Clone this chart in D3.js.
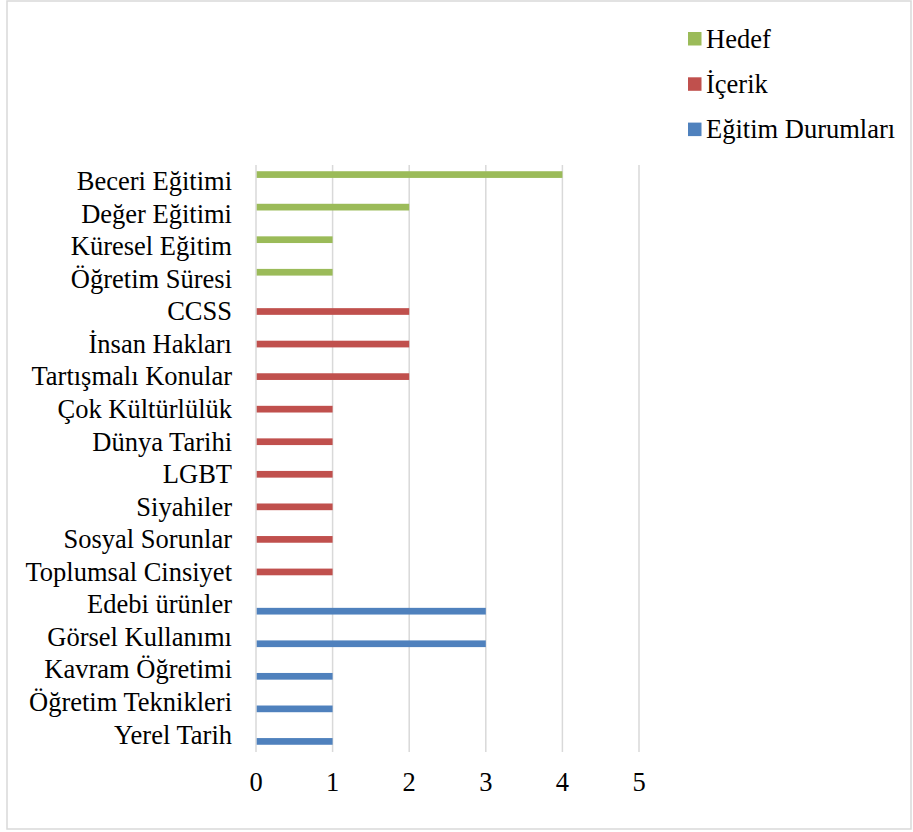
<!DOCTYPE html>
<html><head><meta charset="utf-8">
<script src="https://cdn.jsdelivr.net/npm/d3@7"></script>
</head><body style="margin:0">
<svg id="c" width="913" height="832"></svg>
<script>
const categories = ["Beceri Eğitimi","Değer Eğitimi","Küresel Eğitim","Öğretim Süresi","CCSS","İnsan Hakları","Tartışmalı Konular","Çok Kültürlülük","Dünya Tarihi","LGBT","Siyahiler","Sosyal Sorunlar","Toplumsal Cinsiyet","Edebi ürünler","Görsel Kullanımı","Kavram Öğretimi","Öğretim Teknikleri","Yerel Tarih"];
const seriesNames = ["Hedef","İçerik","Eğitim Durumları"];
const seriesColors = ["#9BBB59","#C0504D","#4F81BD"];
const hedef = [4,2,1,1,null,null,null,null,null,null,null,null,null,null,null,null,null,null];
const icerik = [null,null,null,null,2,2,2,1,1,1,1,1,1,null,null,null,null,null];
const egitimDurumlari = [null,null,null,null,null,null,null,null,null,null,null,null,null,3,3,1,1,1];
const xTicks = [0,1,2,3,4,5];

const FS = "26.5px";
const FONT = '"Liberation Serif"';
const seriesValues = [hedef, icerik, egitimDurumlari];
const svg = d3.select("#c");
svg.append("rect").attr("x",7).attr("y",1).attr("width",904).attr("height",828)
  .attr("fill","#fff").attr("stroke","#d9d9d9").attr("stroke-width",1.5);

const x = d3.scaleLinear().domain([0,5]).range([256,639]);
const y = d3.scaleBand().domain(categories).range([165,751]).paddingInner(0).paddingOuter(0);
const ys = d3.scaleBand().domain(seriesNames).range([0,y.bandwidth()]).paddingInner(0).paddingOuter(0.93);

svg.selectAll("line.grid").data(xTicks).join("line")
  .attr("x1",d=>x(d)).attr("x2",d=>x(d)).attr("y1",165).attr("y2",752)
  .attr("stroke","#d9d9d9").attr("stroke-width",1.5);

seriesNames.forEach((s,si)=>{
  const data = categories.map((c,i)=>({c, v:seriesValues[si][i]})).filter(d=>d.v!=null);
  svg.selectAll("rect.s"+si).data(data).join("rect")
    .attr("x",x(0)+0.7).attr("y",d=>y(d.c)+ys(s))
    .attr("width",d=>x(d.v)-x(0)-0.7).attr("height",ys.bandwidth())
    .attr("fill",seriesColors[si]);
});

categories.forEach(c=>{
  svg.append("text").attr("x",232).attr("y",y(c)+y.bandwidth()/2+8.8)
    .attr("text-anchor","end").attr("font-size",FS)
    .style("font-family",FONT).text(c);
});

xTicks.forEach(t=>{
  svg.append("text").attr("x",x(t)).attr("y",791).attr("text-anchor","middle")
    .attr("font-size",FS).style("font-family",FONT).text(t);
});

seriesNames.forEach((s,i)=>{
  const yy = 32 + i*45.3;
  svg.append("rect").attr("x",688).attr("y",yy).attr("width",13.5).attr("height",13.5).attr("fill",seriesColors[i]);
  svg.append("text").attr("x",706).attr("y",yy+15.5).attr("font-size",FS)
    .style("font-family",FONT).text(s);
});
</script></body></html>
